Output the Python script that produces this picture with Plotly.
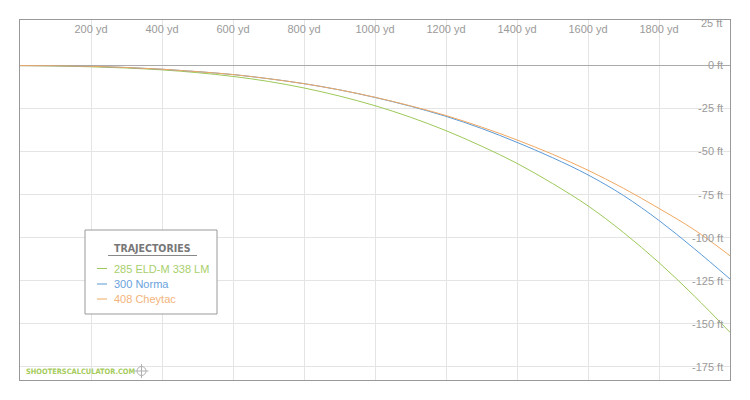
import plotly.graph_objects as go

# ---- data (range in yards, drop in feet) ----
ranges_yd = [0, 100, 200, 300, 400, 500, 600, 700, 800, 900, 1000,
             1100, 1200, 1300, 1400, 1500, 1600, 1700, 1800, 1900, 2000]
drop_285_eldm = [0, -0.2, -0.7, -1.4, -2.5, -4.1, -6.3, -9.2, -13.0, -17.7, -23.3,
                 -30.0, -37.8, -46.8, -56.8, -68.5, -81.5, -97.0, -114.5, -134.0, -155.0]
drop_300_norma = [0, -0.1, -0.4, -1.1, -2.1, -3.5, -5.2, -7.6, -10.5, -14.1, -18.5,
                  -23.6, -29.5, -36.5, -44.6, -53.5, -63.5, -75.5, -90.0, -106.5, -124.0]
drop_408_cheytac = [0, -0.1, -0.4, -1.1, -2.1, -3.5, -5.2, -7.6, -10.5, -14.1, -18.4,
                    -23.4, -29.0, -35.7, -43.2, -51.5, -60.8, -71.3, -83.0, -95.5, -110.5]

series_names = ["285 ELD-M 338 LM", "300 Norma", "408 Cheytac"]
series_colors = ["#9dc95a", "#5b9ad6", "#f0a862"]
legend_text_colors = ["#a8d06c", "#6aa2dc", "#f2b47c"]

x_tickvals = [200, 400, 600, 800, 1000, 1200, 1400, 1600, 1800]
x_ticktext = ["200 yd", "400 yd", "600 yd", "800 yd", "1000 yd", "1200 yd",
              "1400 yd", "1600 yd", "1800 yd"]
y_tickvals = [25, 0, -25, -50, -75, -100, -125, -150, -175]
y_ticktext = ["25 ft", "0 ft", "-25 ft", "-50 ft", "-75 ft", "-100 ft",
              "-125 ft", "-150 ft", "-175 ft"]

legend_title = "TRAJECTORIES"
watermark = "SHOOTERSCALCULATOR.COM"

fig = go.Figure()
for name, ys, col in zip(series_names,
                         [drop_285_eldm, drop_300_norma, drop_408_cheytac],
                         series_colors):
    fig.add_trace(go.Scatter(x=ranges_yd, y=ys, mode="lines", name=name,
                             line=dict(color=col, width=1, shape="spline"),
                             showlegend=False, hoverinfo="skip"))

# page offset of the figure (body margin) is 8px
W, H = 734, 384
ml, mr, mt, mb = 12, 12, 12, 12
PX0, PX1, PY0, PY1 = 20, 730, 20, 380  # plot area in page pixels


def px(xp):
    return (xp - PX0) / (PX1 - PX0)


def py(yp):
    return 1 - (yp - PY0) / (PY1 - PY0)


fig.update_layout(
    width=W, height=H,
    margin=dict(l=ml, r=mr, t=mt, b=mb),
    paper_bgcolor="white", plot_bgcolor="white",
    font=dict(family="Liberation Sans, Arial, sans-serif", size=11, color="#9a9a9a"),
    xaxis=dict(range=[0, 2000], side="top", ticklabelposition="inside",
               ticklabelstandoff=5,
               tickvals=x_tickvals, ticktext=x_ticktext, ticks="",
               showgrid=True, gridcolor="#e4e4e4", gridwidth=1,
               showline=True, linecolor="#999999", linewidth=1, mirror=True,
               zeroline=False, tickfont=dict(size=11, color="#9a9a9a")),
    yaxis=dict(range=[-182.7, 26.5], side="right", ticklabelposition="inside",
               ticklabelstandoff=6,
               tickvals=y_tickvals, ticktext=y_ticktext, ticks="",
               showgrid=True, gridcolor="#e4e4e4", gridwidth=1,
               showline=True, linecolor="#999999", linewidth=1, mirror=True,
               zeroline=True, zerolinecolor="#aaaaaa", zerolinewidth=1,
               tickfont=dict(size=11, color="#9a9a9a")),
    showlegend=False,
)

shapes = []
annotations = []

# top tick label that plotly hides because it overlaps the frame
annotations.append(dict(text=y_ticktext[0], xref="paper", yref="y",
                        x=px(723.5), y=y_tickvals[0], xanchor="right", yanchor="middle",
                        showarrow=False,
                        font=dict(family="Liberation Sans, Arial, sans-serif",
                                  size=11, color="#9a9a9a")))

# ---- manual legend box ----
bx0, bx1, by0, by1 = 85, 217, 230, 314
shapes.append(dict(type="rect", xref="paper", yref="paper",
                   x0=px(bx0), x1=px(bx1), y0=py(by1), y1=py(by0),
                   line=dict(color="#9a9a9a", width=1), fillcolor="white", layer="above"))
annotations.append(dict(text="<b>" + legend_title + "</b>", xref="paper", yref="paper",
                        x=px(152), y=py(247.5), xanchor="center", yanchor="middle",
                        showarrow=False,
                        font=dict(family="DejaVu Sans Condensed, sans-serif",
                                  size=10.5, color="#777777")))
shapes.append(dict(type="line", xref="paper", yref="paper",
                   x0=px(108), x1=px(197), y0=py(255.5), y1=py(255.5),
                   line=dict(color="#888888", width=1), layer="above"))
item_y = [268.5, 284, 299]
for name, col, tcol, yy in zip(series_names, series_colors, legend_text_colors, item_y):
    shapes.append(dict(type="line", xref="paper", yref="paper",
                       x0=px(97), x1=px(107), y0=py(yy), y1=py(yy),
                       line=dict(color=col, width=1), layer="above"))
    annotations.append(dict(text=name, xref="paper", yref="paper",
                            x=px(112), y=py(yy), xanchor="left", yanchor="middle",
                            showarrow=False,
                            font=dict(family="Liberation Sans, Arial, sans-serif",
                                      size=11, color=tcol)))

# ---- watermark ----
annotations.append(dict(text="<b>" + watermark + "</b>", xref="paper", yref="paper",
                        x=px(24), y=py(371), xanchor="left", yanchor="middle",
                        showarrow=False,
                        font=dict(family="DejaVu Sans Condensed, sans-serif",
                                  size=7.4, color="#a6cc5c")))
cx, cy, r = 141.5, 371, 4.5
shapes.append(dict(type="circle", xref="paper", yref="paper",
                   x0=px(cx - r), x1=px(cx + r), y0=py(cy + r), y1=py(cy - r),
                   line=dict(color="#b0b0b0", width=1), layer="above"))
shapes.append(dict(type="line", xref="paper", yref="paper",
                   x0=px(cx - 7), x1=px(cx + 7), y0=py(cy), y1=py(cy),
                   line=dict(color="#b0b0b0", width=1), layer="above"))
shapes.append(dict(type="line", xref="paper", yref="paper",
                   x0=px(cx), x1=px(cx), y0=py(cy - 7), y1=py(cy + 7),
                   line=dict(color="#b0b0b0", width=1), layer="above"))

fig.update_layout(shapes=shapes, annotations=annotations)
fig.write_html("out.html")
